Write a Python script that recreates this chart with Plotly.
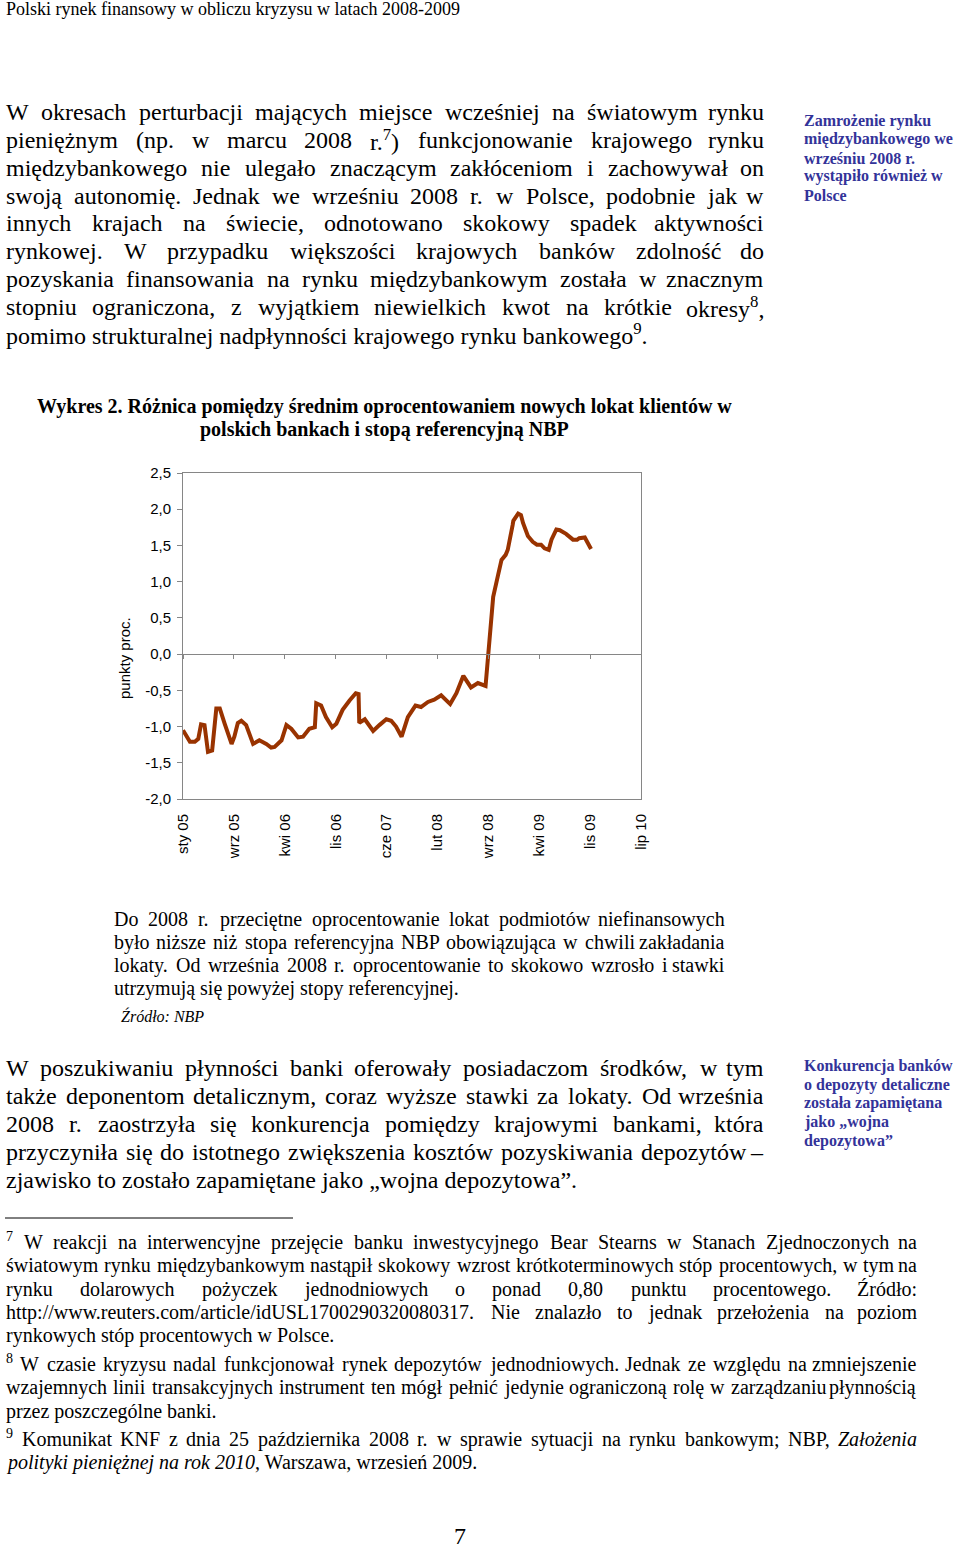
import re
import unicodedata
import plotly.graph_objects as go

W, H = 960, 1548
SERIF = "Liberation Serif"
SANS = "Liberation Sans"

# ---- Wykres 2: data ----
months = [0.0, 1.0, 1.7, 2.2, 2.6, 3.1, 3.6, 4.2, 4.8, 5.3, 6.0, 7.0, 7.4, 7.9, 8.4, 9.1,
          10.1, 11.0, 12.0, 12.7, 13.2, 14.2, 14.9, 15.6, 16.6, 17.3, 18.2, 19.0, 19.2, 19.9,
          20.6, 21.5, 22.1, 23.0, 24.0, 24.9, 25.3, 25.4, 26.2, 26.6, 27.4, 28.3, 29.3, 30.0,
          30.7, 31.5, 32.4, 33.5, 34.3, 35.3, 36.2, 37.2, 37.9, 38.5, 39.4, 40.4, 41.5, 42.5,
          43.6, 44.0, 44.3, 44.4, 44.7, 45.4, 45.9, 46.5, 46.8, 47.5, 47.6, 48.3, 48.7, 49.0,
          49.7, 50.4, 51.0, 51.6, 52.1, 52.7, 53.1, 53.8, 54.3, 55.2, 56.2, 56.8, 57.1, 57.9,
          58.3, 58.8]
spread = [-1.05, -1.21, -1.21, -1.17, -0.97, -0.98, -1.35, -1.33, -0.75, -0.75, -0.96, -1.24,
          -1.14, -0.95, -0.92, -0.98, -1.24, -1.19, -1.24, -1.29, -1.28, -1.19, -0.98, -1.03,
          -1.15, -1.14, -1.03, -1.01, -0.68, -0.71, -0.87, -1.01, -0.96, -0.77, -0.64, -0.54,
          -0.55, -0.95, -0.90, -0.96, -1.06, -0.98, -0.90, -0.92, -1.00, -1.14, -0.87, -0.71,
          -0.73, -0.66, -0.63, -0.57, -0.64, -0.69, -0.54, -0.30, -0.46, -0.40, -0.44, 0.00,
          0.29, 0.42, 0.79, 1.09, 1.30, 1.37, 1.44, 1.78, 1.84, 1.94, 1.92, 1.81, 1.63, 1.55,
          1.51, 1.51, 1.46, 1.44, 1.58, 1.72, 1.71, 1.66, 1.58, 1.58, 1.60, 1.61, 1.54, 1.45]

x_tick_labels = ["sty 05", "wrz 05", "kwi 06", "lis 06", "cze 07",
                 "lut 08", "wrz 08", "kwi 09", "lis 09", "lip 10"]
x_tick_pos = [0, 7.33, 14.67, 22, 29.33, 36.67, 44, 51.33, 58.67, 66]
y_tick_vals = [-2.0, -1.5, -1.0, -0.5, 0.0, 0.5, 1.0, 1.5, 2.0, 2.5]
y_tick_text = ["-2,0", "-1,5", "-1,0", "-0,5", "0,0", "0,5", "1,0", "1,5", "2,0", "2,5"]

# ---- page text ----
header = "Polski rynek finansowy w obliczu kryzysu w latach 2008-2009"

para1 = [
    "W okresach perturbacji mających miejsce wcześniej na światowym rynku",
    "pieniężnym (np. w marcu 2008 r.<sup>7</sup>) funkcjonowanie krajowego rynku",
    "międzybankowego nie ulegało znaczącym zakłóceniom i zachowywał on",
    "swoją autonomię. Jednak we wrześniu 2008 r. w Polsce, podobnie jak w",
    "innych krajach na świecie, odnotowano skokowy spadek aktywności",
    "rynkowej. W przypadku większości krajowych banków zdolność do",
    "pozyskania finansowania na rynku międzybankowym została w znacznym",
    "stopniu ograniczona, z wyjątkiem niewielkich kwot na krótkie okresy<sup>8</sup>,",
    "pomimo strukturalnej nadpłynności krajowego rynku bankowego<sup>9</sup>.",
]
side1 = ["Zamrożenie rynku", "międzybankowego we", "wrześniu 2008 r.",
         "wystąpiło również w", "Polsce"]

chart_title = ["Wykres 2. Różnica pomiędzy średnim oprocentowaniem nowych lokat klientów w",
               "polskich bankach i stopą referencyjną NBP"]
y_title = "punkty proc."

caption = [
    "Do 2008 r. przeciętne oprocentowanie lokat podmiotów niefinansowych",
    "było niższe niż stopa referencyjna NBP obowiązująca w chwili zakładania",
    "lokaty. Od września 2008 r. oprocentowanie to skokowo wzrosło i stawki",
    "utrzymują się powyżej stopy referencyjnej.",
]
source = "<i>Źródło: NBP</i>"

para2 = [
    "W poszukiwaniu płynności banki oferowały posiadaczom środków, w tym",
    "także deponentom detalicznym, coraz wyższe stawki za lokaty. Od września",
    "2008 r. zaostrzyła się konkurencja pomiędzy krajowymi bankami, która",
    "przyczyniła się do istotnego zwiększenia kosztów pozyskiwania depozytów –",
    "zjawisko to zostało zapamiętane jako „wojna depozytowa”.",
]
side2 = ["Konkurencja banków", "o depozyty detaliczne", "została zapamiętana",
         "jako „wojna", "depozytowa”"]

notes = [
    ("<sup>7</sup> W reakcji na interwencyjne przejęcie banku inwestycyjnego Bear Stearns w Stanach Zjednoczonych na", True),
    ("światowym rynku międzybankowym nastąpił skokowy wzrost krótkoterminowych stóp procentowych, w tym na", True),
    ("rynku dolarowych pożyczek jednodniowych o ponad 0,80 punktu procentowego. Źródło:", True),
    ("http://www.reuters.com/article/idUSL1700290320080317. Nie znalazło to jednak przełożenia na poziom", True),
    ("rynkowych stóp procentowych w Polsce.", False),
    ("<sup>8</sup> W czasie kryzysu nadal funkcjonował rynek depozytów jednodniowych. Jednak ze względu na zmniejszenie", True),
    ("wzajemnych linii transakcyjnych instrument ten mógł pełnić jedynie ograniczoną rolę w zarządzaniu płynnością", True),
    ("przez poszczególne banki.", False),
    ("<sup>9</sup> Komunikat KNF z dnia 25 października 2008 r. w sprawie sytuacji na rynku bankowym; NBP, <i>Założenia</i>", True),
    ("<i>polityki pieniężnej na rok 2010</i>, Warszawa, wrzesień 2009.", False),
]
page_no = "7"

# ---- rough Times widths, used to justify lines word by word ----
TIMES = dict(zip("abcdefghijklmnopqrstuvwxyz",
                 [444, 500, 444, 500, 444, 333, 500, 500, 278, 278, 500, 278, 778,
                  500, 500, 500, 500, 333, 389, 278, 500, 500, 722, 500, 500, 444]))
TIMES.update(zip("ABCDEFGHIJKLMNOPQRSTUVWXYZ",
                 [722, 667, 667, 722, 611, 556, 722, 722, 333, 389, 722, 611, 889,
                  722, 722, 556, 722, 667, 556, 611, 722, 722, 944, 722, 722, 611]))
TIMES.update({c: 500 for c in "0123456789"})
TIMES.update({" ": 250, ".": 250, ",": 250, ":": 278, ";": 278, "/": 278, "(": 333,
              ")": 333, "-": 333, "–": 500, "„": 444, "”": 444, "ł": 278, "Ł": 611})


def char_w(c):
    if c in TIMES:
        return TIMES[c]
    return TIMES.get(unicodedata.normalize("NFD", c)[0], 500)


def text_w(s, size):
    w, scale = 0, 1.0
    for part in re.split(r"(<[^>]+>)", s):
        if part.startswith("<"):
            scale = 0.7 if part == "<sup>" else (1.0 if part == "</sup>" else scale)
            continue
        w += sum(char_w(c) for c in part) * scale
    return w * size / 1000


annotations = []


def txt(x, y, s, size, family=SERIF, color="black", anchor="left", angle=0):
    annotations.append(dict(x=x / W, y=1 - y / H, xref="paper", yref="paper", text=s,
                            showarrow=False, xanchor=anchor, yanchor="middle",
                            textangle=angle, borderpad=0,
                            font=dict(family=family, size=size, color=color)))


def justify(line, y, left, right, size):
    words = line.split(" ")
    widths = [text_w(w, size) for w in words]
    gap = (right - left - sum(widths)) / (len(words) - 1)
    x = left
    for i, (wd, ww) in enumerate(zip(words, widths)):
        # a lone footnote number sits above the line
        yy = y - size * 0.3 if wd.startswith("<sup>") and wd.endswith("</sup>") else y
        if i == len(words) - 1:
            txt(right, yy, wd, size, anchor="right")
        else:
            txt(x, yy, wd, size)
        x += ww + gap


def block(lines, ys, left, right, size):
    for i, (line, y) in enumerate(zip(lines, ys)):
        if i < len(lines) - 1:
            justify(line, y, left, right, size)
        else:
            txt(left, y, line, size)


txt(5, 9, header, 18)
block(para1, [112, 140, 168, 196, 223, 251, 279, 307, 334], 5, 765, 24)
for s, y in zip(side1, [121, 139, 158, 176, 195]):
    txt(803, y, "<b>" + s + "</b>", 16, color="#333399")

for s, y in zip(chart_title, [406, 429]):
    txt(384, y, "<b>" + s + "</b>", 20, anchor="center")
txt(125, 658, y_title, 15, family=SANS, anchor="center", angle=-90)

block(caption, [919, 942, 965, 989], 113, 726, 20)
txt(120, 1016, source, 16)

block(para2, [1068, 1096, 1124, 1152, 1180], 5, 765, 24)
for s, y in zip(side2, [1066, 1085, 1103, 1122, 1141]):
    txt(803, y, "<b>" + s + "</b>", 16, color="#333399")

for (s, just), y in zip(notes, [1242, 1265, 1289, 1312, 1335, 1364, 1387, 1411, 1439, 1462]):
    if just:
        justify(s, y, 5, 918, 20)
    else:
        txt(5, y, s, 20)

txt(460, 1536, page_no, 24, anchor="center")

# ---- chart ----
GRAY = "#868686"
xd = [183 / W, 641 / W]
yd = [1 - 799 / H, 1 - 473 / H]
zero_pos = yd[0] + (yd[1] - yd[0]) * (0 - y_tick_vals[0]) / (y_tick_vals[-1] - y_tick_vals[0])

fig = go.Figure()
fig.add_trace(go.Scatter(x=months, y=spread, mode="lines",
                         line=dict(color="#993300", width=4), hoverinfo="skip",
                         showlegend=False))
fig.add_trace(go.Scatter(x=[None], y=[None], xaxis="x2", mode="lines",
                         showlegend=False, hoverinfo="skip"))

fig.update_layout(
    width=W, height=H, margin=dict(l=0, r=0, t=0, b=0, autoexpand=False),
    paper_bgcolor="white", plot_bgcolor="white", showlegend=False,
    annotations=annotations,
    shapes=[dict(type="line", xref="paper", yref="paper", x0=5 / W, x1=293 / W,
                 y0=1 - 1218 / H, y1=1 - 1218 / H, line=dict(color="black", width=1))],
    xaxis=dict(domain=xd, range=[x_tick_pos[0], x_tick_pos[-1]], tickvals=x_tick_pos,
               ticktext=x_tick_labels, tickangle=-90, ticks="", showgrid=False,
               zeroline=False, showline=True, linecolor=GRAY, mirror=True, automargin=False,
               ticklabelstandoff=8, tickfont=dict(family=SANS, size=15, color="black")),
    xaxis2=dict(domain=xd, range=[x_tick_pos[0], x_tick_pos[-1]], tickvals=x_tick_pos,
                overlaying="x", anchor="free", position=zero_pos, showticklabels=False,
                ticks="outside", ticklen=4, tickcolor=GRAY, showline=True, linecolor=GRAY,
                showgrid=False, zeroline=False, automargin=False),
    yaxis=dict(domain=yd, range=[y_tick_vals[0], y_tick_vals[-1]], tickvals=y_tick_vals,
               ticktext=y_tick_text, ticks="outside", ticklen=5, tickcolor=GRAY,
               showline=True, linecolor=GRAY, mirror=True, showgrid=False, zeroline=False,
               automargin=False, ticklabelstandoff=3,
               tickfont=dict(family=SANS, size=15, color="black")),
)

fig.write_html("out.html", config={"displayModeBar": False},
               post_script="document.body.style.margin='0';"
                           "document.documentElement.style.overflow='hidden';")
